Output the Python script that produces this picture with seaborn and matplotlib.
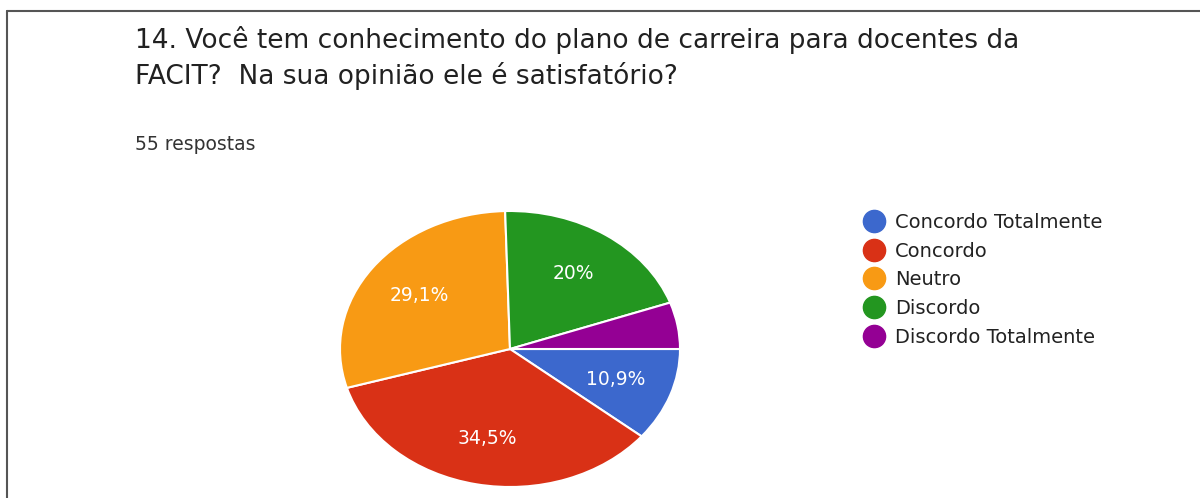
import matplotlib
matplotlib.use("Agg")
import matplotlib.pyplot as plt
from matplotlib.lines import Line2D
import seaborn as sns

# data (55 responses)
categories = ["Concordo Totalmente", "Concordo", "Neutro", "Discordo", "Discordo Totalmente"]
counts = [6, 19, 16, 11, 3]
pct_labels = ["10,9%", "34,5%", "29,1%", "20%", ""]
colors = sns.color_palette(["#3c68cd", "#d93116", "#f89a14", "#239620", "#940094"])

title_lines = ["14. Você tem conhecimento do plano de carreira para docentes da",
               "FACIT?  Na sua opinião ele é satisfatório?"]
subtitle = "55 respostas"

sns.set_theme(style="white")
plt.rcParams["font.family"] = ["DejaVu Sans"]

W, H = 1200, 498
fig = plt.figure(figsize=(W / 100, H / 100), dpi=100)
fig.patch.set_facecolor("white")

# pie axes: centre (510, 349), semi-axes 170 x 138 px (stretched screenshot)
cx, cy, rx, ry = 510, 349, 170, 138
ax = fig.add_axes([(cx - rx) / W, 1 - (cy + ry) / H, 2 * rx / W, 2 * ry / H])
wedges, texts = ax.pie(counts, colors=colors, startangle=0, counterclock=False,
                       labels=pct_labels, labeldistance=0.66,
                       wedgeprops=dict(edgecolor="white", linewidth=1.5),
                       textprops=dict(color="white", fontsize=13.5, ha="center", va="center"))
ax.set_aspect("auto")
ax.set_xlim(-1, 1)
ax.set_ylim(-1, 1)
ax.axis("off")

# title and response count
fig.text(135 / W, 1 - 40 / H, title_lines[0], fontsize=19, color="#212121", va="center")
fig.text(135 / W, 1 - 76 / H, title_lines[1], fontsize=19, color="#212121", va="center")
fig.text(135 / W, 1 - 144 / H, subtitle, fontsize=13.5, color="#333333", va="center")

# legend with round markers
handles = [Line2D([0], [0], marker="o", linestyle="", markersize=16,
                  markerfacecolor=c, markeredgecolor=c) for c in colors]
fig.legend(handles, categories, loc="upper left", bbox_to_anchor=(855 / W, 1 - 205 / H),
           frameon=False, fontsize=14, labelspacing=0.5, handletextpad=0.45,
           handlelength=1.2, borderaxespad=0, labelcolor="#222222")

# screenshot frame
fig.add_artist(Line2D([7 / W, 1], [1 - 11 / H, 1 - 11 / H], color="#555555", linewidth=1.5))
fig.add_artist(Line2D([7 / W, 7 / W], [0, 1 - 11 / H], color="#555555", linewidth=1.5))

fig.savefig("out.png", dpi=100, facecolor="white")
